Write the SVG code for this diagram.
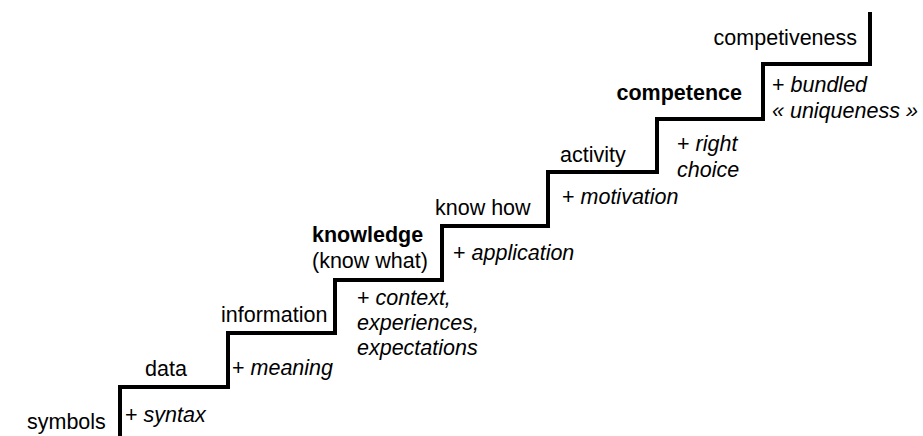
<svg xmlns="http://www.w3.org/2000/svg" width="923" height="436" viewBox="0 0 923 436">
<style>
text{font-family:"Liberation Sans",Arial,sans-serif;font-size:21.5px;fill:#000}
.b{font-weight:bold}
.i{font-style:italic}
.stair{fill:none;stroke:#000;stroke-width:4;stroke-linejoin:miter;stroke-linecap:butt}
</style>
<rect width="923" height="436" fill="#fff"/>
<g id="connectors">
<path class="stair" d="M120,436 V387 H228 V333 H335 V280 H442 V226 H548 V172 H657 V119 H763 V64 H870 V12"/>
</g>
<g id="symbols"><text x="27" y="429">symbols</text></g>
<g id="syntax"><text x="125" y="422">+ <tspan class="i">syntax</tspan></text></g>
<g id="data"><text x="145" y="376">data</text></g>
<g id="meaning"><text x="232" y="375">+ <tspan class="i">meaning</tspan></text></g>
<g id="information"><text x="221" y="322">information</text></g>
<g id="context"><text x="357" y="305">+ <tspan class="i">context,</tspan></text><text class="i" x="357" y="330">experiences,</text><text class="i" x="357" y="355">expectations</text></g>
<g id="knowledge"><text class="b" x="312" y="242">knowledge</text><text x="312" y="268">(know what)</text></g>
<g id="application"><text x="453" y="260">+ <tspan class="i">application</tspan></text></g>
<g id="knowhow"><text x="435" y="215">know how</text></g>
<g id="motivation"><text x="562" y="204">+ <tspan class="i">motivation</tspan></text></g>
<g id="activity"><text x="560" y="162">activity</text></g>
<g id="rightchoice"><text x="677" y="151">+ <tspan class="i">right</tspan></text><text class="i" x="677" y="177">choice</text></g>
<g id="competence"><text class="b" x="742" y="100" text-anchor="end">competence</text></g>
<g id="bundled"><text x="772" y="92">+ <tspan class="i">bundled</tspan></text><text class="i" x="772" y="118">« uniqueness »</text></g>
<g id="competiveness"><text x="857" y="45" text-anchor="end">competiveness</text></g>
</svg>
